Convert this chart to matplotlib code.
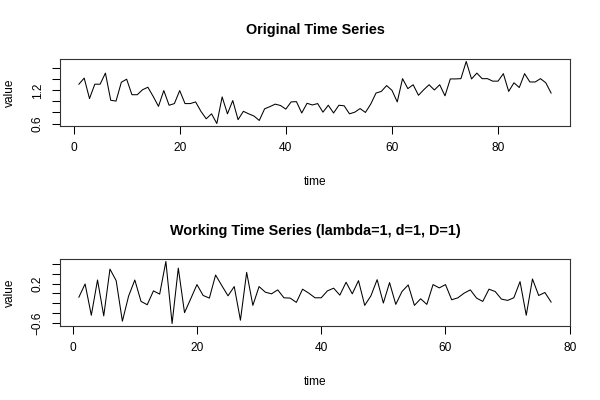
import numpy as np
import matplotlib
matplotlib.use("Agg")
import matplotlib.pyplot as plt

plt.rcParams['font.family'] = ['Liberation Sans', 'DejaVu Sans']

# original series (t = 1..90)
original = [1.31, 1.42, 1.05, 1.31, 1.31, 1.51, 1.02, 1.005, 1.345, 1.40,
            1.12, 1.12, 1.21, 1.255, 1.09, 0.91, 1.195, 0.93, 0.96, 1.195,
            0.96, 0.96, 0.99, 0.82, 0.685, 0.775, 0.60, 1.08, 0.775, 1.015,
            0.67, 0.82, 0.775, 0.735, 0.655, 0.865, 0.905, 0.95, 0.925, 0.86,
            0.99, 0.995, 0.79, 0.965, 0.935, 0.96, 0.805, 0.93, 0.79, 0.93,
            0.92, 0.775, 0.805, 0.87, 0.80, 0.95, 1.15, 1.18, 1.285, 1.20,
            0.99, 1.41, 1.23, 1.30, 1.11, 1.21, 1.30, 1.205, 1.30, 1.10,
            1.405, 1.405, 1.41, 1.72, 1.405, 1.51, 1.41, 1.41, 1.365, 1.365,
            1.50, 1.18, 1.335, 1.25, 1.50, 1.35, 1.35, 1.41, 1.335, 1.15]

# working series after differencing (t = 1..77)
working = [-0.074, 0.193, -0.44, 0.273, -0.453, 0.493, 0.26, -0.56, -0.053, 0.273,
           -0.16, -0.227, 0.053, -0.013, 0.647, -0.607, 0.513, -0.387, -0.107, 0.18,
           -0.04, -0.093, 0.373, 0.16, -0.047, 0.14, -0.54, 0.427, -0.24, 0.14,
           0.027, -0.007, 0.073, -0.087, -0.093, -0.18, 0.087, 0.007, -0.087, -0.087,
           0.053, 0.107, -0.033, 0.227, -0.007, 0.26, -0.24, -0.047, 0.28, -0.193,
           0.22, -0.22, 0.04, 0.173, -0.24, -0.107, -0.22, 0.18, 0.113, 0.18,
           -0.127, -0.087, 0.007, 0.073, -0.093, -0.16, 0.087, 0.04, -0.113, -0.14,
           -0.087, 0.24, -0.44, 0.293, -0.04, 0.02, -0.173]

top_xticks = [0, 20, 40, 60, 80]
top_yticks = [0.6, 0.8, 1.0, 1.2, 1.4, 1.6]
top_ylabels = ["0.6", "", "", "1.2", "", ""]
bot_xticks = [0, 20, 40, 60, 80]
bot_yticks = [-0.6, -0.4, -0.2, 0.0, 0.2, 0.4, 0.6]
bot_ylabels = ["\u22120.6", "", "", "", "0.2", "", ""]


def r_lims(vals):
    lo, hi = min(vals), max(vals)
    d = (hi - lo) * 0.04
    return lo - d, hi + d


def style(ax, title, title_y, xticks, yticks, ylabels):
    for s in ax.spines.values():
        s.set_color('#333333')
        s.set_linewidth(0.8)
    ax.set_xticks(xticks)
    ax.set_yticks(yticks)
    ax.set_yticklabels(ylabels, rotation=90, va='center')
    ax.tick_params(direction='out', length=5.8, width=0.75, labelsize=8.6,
                   pad=6, colors='black')
    ax.set_xlabel("time", fontsize=8.6)
    ax.set_ylabel("value", fontsize=8.6, va='center')
    ax.xaxis.set_label_coords(0.5, -0.75)
    ax.yaxis.set_label_coords(-0.098, 0.5)
    ax.set_title(title, fontsize=10.4, fontweight='bold', y=title_y, va='center', pad=0)


fig = plt.figure(figsize=(6, 4), dpi=100)
ax1 = fig.add_axes([0.1, 0.685, 0.85, 0.1675])
ax2 = fig.add_axes([0.1, 0.185, 0.85, 0.1675])

t1 = np.arange(1, len(original) + 1)
ax1.plot(t1, original, color='black', lw=0.75)
ax1.set_xlim(r_lims(t1))
ax1.set_ylim(r_lims(original))
style(ax1, "Original Time Series", 1.433, top_xticks, top_yticks, top_ylabels)

t2 = np.arange(1, len(working) + 1)
ax2.plot(t2, working, color='black', lw=0.75)
ax2.set_xlim(r_lims(t2))
ax2.set_ylim(r_lims(working))
style(ax2, "Working Time Series (lambda=1, d=1, D=1)", 1.418, bot_xticks, bot_yticks, bot_ylabels)

fig.savefig("out.png", dpi=100)
